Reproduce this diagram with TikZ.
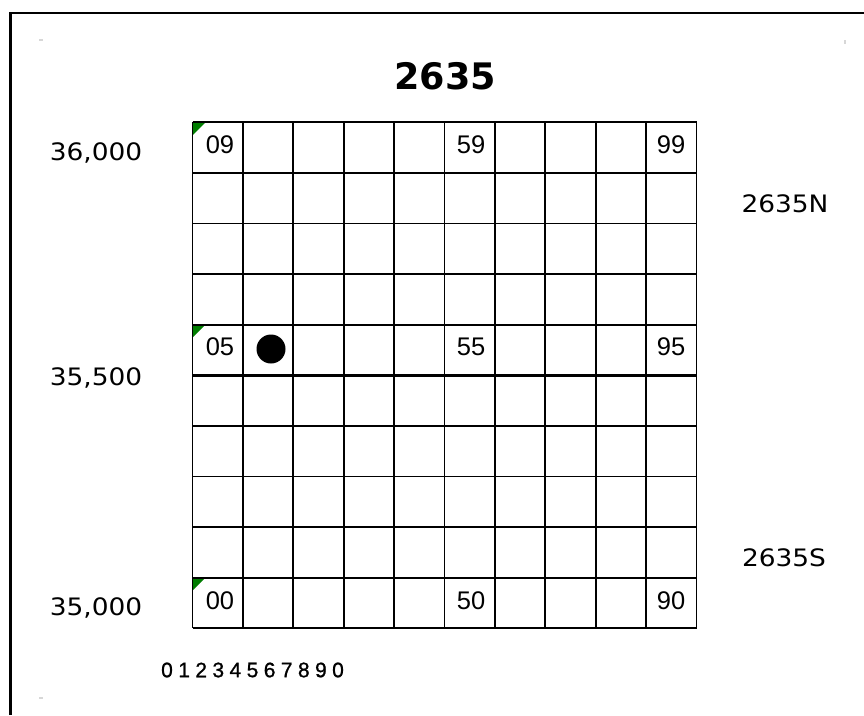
\documentclass[tikz,border=0pt]{standalone}
\usepackage{fontspec}
\setmainfont{DejaVu Sans}
\newfontfamily\sidefont{DejaVu Sans}[FakeStretch=1.1]
\newfontfamily\cellfont{Liberation Sans}
\newfontfamily\axisfont{Liberation Sans}[FakeBold=1]
\begin{document}
\begin{tikzpicture}[x=1pt,y=-1pt,
  gridline/.style={line width=1.9pt,black},
  midline/.style={line width=3.4pt,black},
  frameline/.style={line width=2.8pt,black},
  corner/.style={fill={rgb,255:red,0;green,125;blue,0}},
  sidelabel/.style={inner sep=0pt,anchor=base,font=\sidefont\fontsize{24}{24}\selectfont},
  titlelabel/.style={inner sep=0pt,anchor=base,font=\bfseries\fontsize{36.5}{36.5}\selectfont},
  celllabel/.style={inner sep=0pt,anchor=center,font=\cellfont\fontsize{25.5}{25.5}\selectfont},
  axislabel/.style={inner sep=0pt,anchor=center,font=\axisfont\fontsize{21}{21}\selectfont},
  speck/.style={fill={rgb,255:red,215;green,215;blue,215}}
]
\useasboundingbox (0,0) rectangle (864,715);
\fill[white] (0,0) rectangle (864,715);
% frame
\draw[frameline] (10.5,715) -- (10.5,13) -- (864,13);
% faint specks
\fill[speck] (39,39) rectangle (43,41);
\fill[speck] (844,40) rectangle (846,44);
\fill[speck] (39,697) rectangle (43,699);
% green corners
\foreach \yy in {122.3,324.7,577.7}
  \fill[corner] (192.5,\yy) -- ++(13,0) -- ++(-13,13) -- cycle;
% grid
\foreach \i in {0,...,10}{
  \draw[gridline] ({192.5+50.4*\i},122.3) -- ({192.5+50.4*\i},628.3);
  \draw[gridline] (192.5,{122.3+50.6*\i}) -- (696.5,{122.3+50.6*\i});
}
\draw[midline] (192.5,375.3) -- (696.5,375.3);
% dot
\fill[black] (271,349) circle (14.5);
% title
\node[titlelabel] (title) at (445,89.3) {2635};
% side labels
\node[sidelabel] (n36000) at (96,160.7) {36,000};
\node[sidelabel] (n35500) at (96,385.5) {35,500};
\node[sidelabel] (n35000) at (96,615.5) {35,000};
\node[sidelabel] (nN) at (785,212) {2635N};
\node[sidelabel] (nS) at (784,566) {2635S};
% cell labels
\node[celllabel] (c09) at (220,145) {09};
\node[celllabel] (c59) at (471,145) {59};
\node[celllabel] (c99) at (671,145) {99};
\node[celllabel] (c05) at (220,347) {05};
\node[celllabel] (c55) at (471,347) {55};
\node[celllabel] (c95) at (671,347) {95};
\node[celllabel] (c00) at (220,601) {00};
\node[celllabel] (c50) at (471,601) {50};
\node[celllabel] (c90) at (671,601) {90};
% axis digits
\foreach \d [count=\k from 0] in {0,1,2,3,4,5,6,7,8,9,0}
  \node[axislabel] (ax\k) at ({167+17.1*\k},670) {\d};
\end{tikzpicture}
\end{document}
